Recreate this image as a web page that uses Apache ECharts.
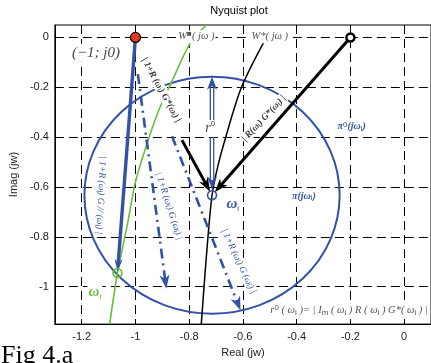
<!DOCTYPE html>
<html>
<head>
<meta charset="utf-8">
<script src="https://cdn.jsdelivr.net/npm/echarts@6/dist/echarts.min.js"></script>
<style>
  html, body { margin: 0; padding: 0; background: #fff; }
  #chart { width: 431px; height: 363px; }
</style>
</head>
<body>
<div id="chart"></div>
<script>
// ---- axis ticks ----
const xTicks = [-1.2, -1, -0.8, -0.6, -0.4, -0.2, 0];
const yTicks = [-1, -0.8, -0.6, -0.4, -0.2, 0];

// ---- key points (Real, Imag) ----
const criticalPoint = [-1, 0];          // (-1; j0)
const openLoopPoint = [-0.2, 0];        // R(w_i)G*(w_i) reference
const nominalPoint = [-0.715, -0.633];  // W*(j w_i)
const perturbedPoint = [-1.067, -0.945];// W0(j w_i)

// ---- uncertainty circle: centre and radius r0 ----
const circleCentre = [-0.715, -0.633];
const circleRadius = 0.475;

// ---- frequency responses ----
const w0Curve = [[-1.096, -1.15], [-1.067, -0.945], [-1.03, -0.75], [-1.0, -0.58],
                 [-0.955, -0.42], [-0.915, -0.297], [-0.864, -0.175], [-0.795, -0.021], [-0.736, 0.05]];
const wStarCurve = [[-0.755, -1.15], [-0.736, -0.878], [-0.715, -0.633], [-0.693, -0.515],
                    [-0.664, -0.4], [-0.605, -0.199], [-0.515, -0.005]];

// ---- vectors ----
const vecToPerturbed = [criticalPoint, perturbedPoint];
const vecFromOpenLoop = [openLoopPoint, nominalPoint];
const vecUpperLeft = [[-0.827, -0.412], nominalPoint];
const vecDashLeft = [[-0.991, -0.147], [-0.885, -1.008]];
const vecDashRight = [[-0.864, -0.396], [-0.609, -1.095]];
const vecRadius = [nominalPoint, [-0.715, -0.158]];

const BLUE = '#3452a5';
const GREEN = '#6cbf3b';
const SERIF = '"Liberation Serif", "DejaVu Serif", serif';
const SANS = '"Liberation Sans", Arial, sans-serif';

const chart = echarts.init(document.getElementById('chart'), null, { renderer: 'canvas' });

function arrowSeries(seg, opt) {
  return {
    type: 'custom',
    coordinateSystem: 'cartesian2d',
    silent: true,
    z: opt.z || 4,
    data: [[seg[0][0], seg[0][1], seg[1][0], seg[1][1]]],
    renderItem: function (params, api) {
      const p0 = api.coord([api.value(0), api.value(1)]);
      const p1 = api.coord([api.value(2), api.value(3)]);
      const dx = p1[0] - p0[0], dy = p1[1] - p0[1];
      const len = Math.hypot(dx, dy);
      const ux = dx / len, uy = dy / len, nx = -uy, ny = ux;
      const L = opt.headLen, W = opt.headWidth / 2, g = opt.gap || 0;
      function head(tip, sx, sy) {
        const bx = tip[0] - sx * L, by = tip[1] - sy * L;
        const kx = tip[0] - sx * L * 0.7, ky = tip[1] - sy * L * 0.7;
        return {
          type: 'polygon',
          shape: { points: [tip, [bx + nx * W, by + ny * W], [kx, ky], [bx - nx * W, by - ny * W]] },
          style: { fill: opt.color }
        };
      }
      const tipEnd = [p1[0] - ux * g, p1[1] - uy * g];
      const tipStart = [p0[0] + ux * (opt.startGap || 0), p0[1] + uy * (opt.startGap || 0)];
      const s0 = opt.both ? [tipStart[0] + ux * L * 0.6, tipStart[1] + uy * L * 0.6] : p0;
      const s1 = [tipEnd[0] - ux * L * 0.6, tipEnd[1] - uy * L * 0.6];
      const children = [];
      const offsets = opt.double ? [-1.7, 1.7] : [0];
      offsets.forEach(function (o) {
        children.push({
          type: 'line',
          shape: { x1: s0[0] + nx * o, y1: s0[1] + ny * o, x2: s1[0] + nx * o, y2: s1[1] + ny * o },
          style: { stroke: opt.color, lineWidth: opt.width, lineDash: opt.dash || null, lineCap: 'butt' }
        });
      });
      children.push(head(tipEnd, ux, uy));
      if (opt.both) children.push(head(tipStart, -ux, -uy));
      return { type: 'group', children: children };
    }
  };
}

// text annotations (anchor in data units)
const subRich = {
  s: { fontSize: 8, lineHeight: 8, verticalAlign: 'bottom' },
  sup: { fontSize: 8, lineHeight: 8, verticalAlign: 'top' }
};
const notes = [
  { t: '(−1; j0)', at: [-1.147, -0.061], rot: 0, size: 15, color: '#444', bold: false },
  { t: 'W{sup|■}( jω )', at: [-0.773, 0.003], rot: 0, size: 10.5, color: '#555', bold: false },
  { t: 'W*( jω )', at: [-0.5, 0.003], rot: 0, size: 10.5, color: '#555', bold: false },
  { t: '| 1+R (ω{s|i}) G*(ω{s|i}) |', at: [-0.904, -0.211], rot: -61, size: 9.5, color: '#333', bold: true },
  { t: '| R(ω{s|i}) G*(ω{s|i}) |', at: [-0.522, -0.325], rot: 47, size: 9.5, color: '#333', bold: true },
  { t: 'r{sup|0}', at: [-0.722, -0.365], rot: 0, size: 14, color: '#444', bold: false },
  { t: '| 1+R (ω{s|i}) G // (ω{s|i}) |', at: [-1.129, -0.633], rot: -93, size: 9.5, color: BLUE, bold: false },
  { t: '| 1+R (ω{s|i}) G (ω{s|i}) |', at: [-0.875, -0.676], rot: -72, size: 9.5, color: BLUE, bold: false },
  { t: '| 1+R (ω{s|i}) G (ω{s|i}) |', at: [-0.616, -0.897], rot: -65, size: 9.5, color: BLUE, bold: false },
  { t: 'ω{s|i}', at: [-1.151, -1.02], rot: 0, size: 15, color: GREEN, bold: true },
  { t: 'ω{s|i}', at: [-0.638, -0.669], rot: 0, size: 15, color: BLUE, bold: true },
  { t: 'π(jω{s|i})', at: [-0.373, -0.637], rot: 0, size: 10, color: BLUE, bold: true },
  { t: 'π{sup|0}(jω{s|i})', at: [-0.195, -0.357], rot: 0, size: 10, color: BLUE, bold: true },
  { t: 'r{sup|0} ( ω{s|i} )= | I{s|m} ( ω{s|i} ) R ( ω{s|i} ) G*( ω{s|i} ) |', at: [0.092, -1.095], rot: 0,
    size: 10.5, color: '#555', bold: false, align: 'right' }
];

const option = {
  animation: false,
  backgroundColor: '#fff',
  grid: { left: 48, top: 25, right: -2, bottom: 34, show: true, borderColor: '#000', borderWidth: 1, backgroundColor: 'transparent' },
  title: { show: false },
  xAxis: {
    type: 'value', min: -1.3, max: 0.1,
    name: 'Real (jw)', nameLocation: 'middle', nameGap: 19,
    nameTextStyle: { fontFamily: SANS, fontSize: 11, color: '#222' },
    axisLine: { onZero: false, lineStyle: { color: '#000', width: 1 } },
    axisTick: { show: true, inside: true, length: 4, customValues: xTicks, lineStyle: { color: '#000' } },
    axisLabel: { customValues: xTicks, margin: 7, fontFamily: SANS, fontSize: 11, color: '#222', formatter: function (v) { return String(v); } },
    splitLine: { show: true, lineStyle: { color: '#000', type: [9, 5], width: 1 } }
  },
  yAxis: {
    type: 'value', min: -1.15, max: 0.05,
    name: 'Imag (jw)', nameLocation: 'middle', nameGap: 33, nameRotate: 90,
    nameTextStyle: { fontFamily: SANS, fontSize: 11, color: '#222' },
    axisLine: { onZero: false, lineStyle: { color: '#000', width: 1 } },
    axisTick: { show: true, inside: true, length: 4, customValues: yTicks, lineStyle: { color: '#000' } },
    axisLabel: { customValues: yTicks, margin: 6, fontFamily: SANS, fontSize: 11, color: '#222', formatter: function (v) { return String(v); } },
    splitLine: { show: true, lineStyle: { color: '#000', type: [9, 5], width: 1 } }
  },
  graphic: [
    { type: 'text', x: 239, y: 11, z: 10, style: { text: 'Nyquist plot', fontFamily: SANS, fontSize: 11, fill: '#000', align: 'center', verticalAlign: 'middle' } },
    { type: 'text', x: 1, y: 343, z: 10, style: { text: 'Fig 4.a', fontFamily: SERIF, fontSize: 26, fill: '#000', align: 'left', verticalAlign: 'top' } }
  ],
  series: [
    // uncertainty circle around W*(j w_i)
    {
      type: 'custom', coordinateSystem: 'cartesian2d', silent: true, z: 2,
      data: [[circleCentre[0], circleCentre[1], circleRadius]],
      renderItem: function (params, api) {
        const c = api.coord([api.value(0), api.value(1)]);
        const s = api.size([api.value(2), api.value(2)]);
        const rx = s[0], ry = s[1];
        const d = 'M ' + (c[0] - rx) + ' ' + c[1] +
          ' A ' + rx + ' ' + ry + ' 0 1 0 ' + (c[0] + rx) + ' ' + c[1] +
          ' A ' + rx + ' ' + ry + ' 0 1 0 ' + (c[0] - rx) + ' ' + c[1] + ' Z';
        return {
          type: 'path',
          shape: { pathData: d, x: c[0] - rx, y: c[1] - ry, width: 2 * rx, height: 2 * ry, layout: 'cover' },
          style: { fill: 'none', stroke: BLUE, lineWidth: 2 }
        };
      }
    },
    {
      type: 'line', data: w0Curve, smooth: 0.3, showSymbol: false, silent: true, z: 2,
      lineStyle: { color: GREEN, width: 1.6 }
    },
    {
      type: 'line', data: wStarCurve, smooth: 0.3, showSymbol: false, silent: true, z: 2,
      lineStyle: { color: '#000', width: 1.5 }
    },
    arrowSeries(vecRadius, { color: BLUE, width: 1.3, headLen: 13, headWidth: 10, both: true, double: true, gap: 0, startGap: 6, z: 3 }),
    arrowSeries(vecDashLeft, { color: BLUE, width: 2.6, headLen: 14, headWidth: 10, dash: [10, 5, 2, 5], z: 3 }),
    arrowSeries(vecDashRight, { color: BLUE, width: 2.6, headLen: 14, headWidth: 10, dash: [10, 5, 2, 5], z: 3 }),
    // annotations
    {
      type: 'custom', coordinateSystem: 'cartesian2d', silent: true, z: 5,
      data: notes.map(function (n, i) { return [n.at[0], n.at[1], i]; }),
      renderItem: function (params, api) {
        const n = notes[api.value(2)];
        const p = api.coord([api.value(0), api.value(1)]);
        return {
          type: 'text', x: p[0], y: p[1], rotation: n.rot * Math.PI / 180,
          style: {
            text: n.t, rich: subRich,
            fontFamily: SERIF, fontStyle: 'italic', fontWeight: n.bold ? 'bold' : 'normal',
            fontSize: n.size, lineHeight: Math.round(n.size * 1.2), fill: n.color,
            align: n.align || 'center', verticalAlign: 'middle',
            backgroundColor: '#fff', padding: [0, 1]
          }
        };
      }
    },
    arrowSeries(vecToPerturbed, { color: BLUE, width: 3.4, headLen: 13, headWidth: 8, gap: 1, z: 6 }),
    arrowSeries(vecFromOpenLoop, { color: '#000', width: 3, headLen: 14, headWidth: 10, gap: 4, z: 6 }),
    arrowSeries(vecUpperLeft, { color: '#000', width: 3, headLen: 14, headWidth: 10, gap: 4, z: 6 }),
    {
      type: 'scatter', data: [criticalPoint], symbolSize: 10, silent: true, z: 8,
      itemStyle: { color: '#e63a1e', borderColor: '#000', borderWidth: 1.2, opacity: 1 }
    },
    {
      type: 'scatter', data: [openLoopPoint], symbolSize: 8, silent: true, z: 8,
      itemStyle: { color: '#fff', borderColor: '#000', borderWidth: 2.5, opacity: 1 }
    },
    {
      type: 'scatter', data: [perturbedPoint], symbolSize: 9, silent: true, z: 8,
      itemStyle: { color: 'transparent', borderColor: GREEN, borderWidth: 1.6, opacity: 1 }
    },
    {
      type: 'scatter', data: [nominalPoint], symbolSize: 9, silent: true, z: 8,
      itemStyle: { color: 'transparent', borderColor: BLUE, borderWidth: 1.6, opacity: 1 }
    }
  ]
};

chart.setOption(option);
</script>
</body>
</html>
